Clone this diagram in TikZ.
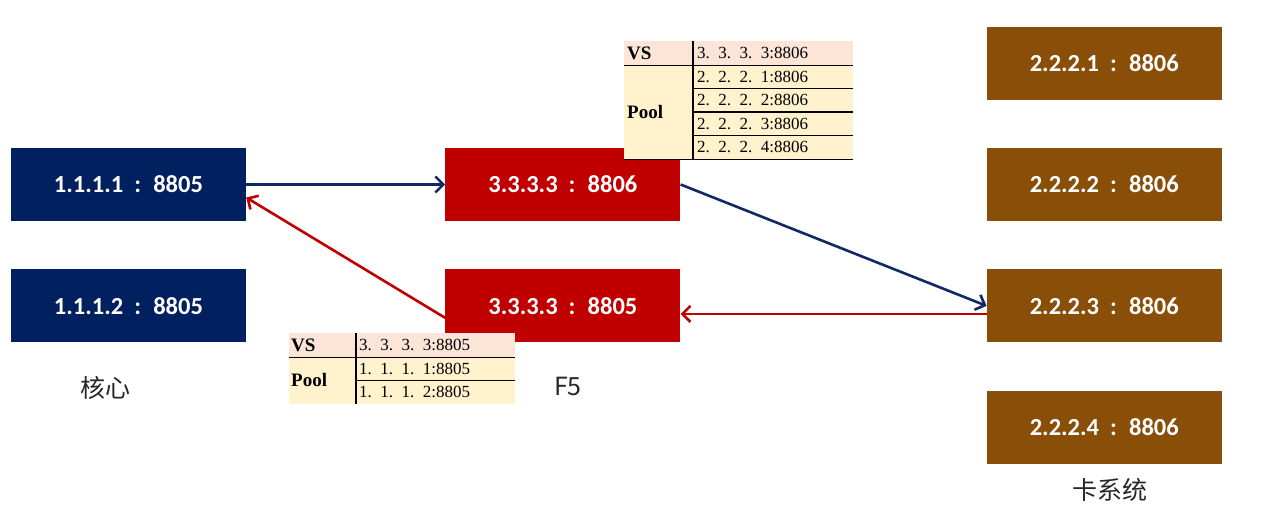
\documentclass[tikz,border=0pt]{standalone}
\usepackage{fontspec}
\setmainfont{Liberation Serif}
\setsansfont{Carlito}
\newfontfamily\cjk{Noto Sans CJK SC}
\usetikzlibrary{
  positioning,
  calc,
  arrows.meta}
\definecolor{corecolor}{RGB}{0,32,96}
\definecolor{f5color}{RGB}{192,0,0}
\definecolor{cardcolor}{RGB}{137,78,8}
\definecolor{vscolor}{RGB}{252,228,214}
\definecolor{poolcolor}{RGB}{255,242,204}
\definecolor{arrowblue}{RGB}{16,40,100}
\newcommand{\portsep}{\hspace{0.45em}:\hspace{0.5em}}
\newcommand{\ipdot}{.\hspace{0.5em}}
\tikzset{
  %% hostbox : one address and port
  hostbox/.style={
    rectangle,
    minimum width=235pt,
    minimum height=73pt,
    inner sep=0pt,
    text=white,
    font=\sffamily\bfseries\fontsize{24.5}{28}\selectfont
  },
  %% core : the core system
  core/.style={hostbox, fill=corecolor},
  %% f5 : the load balancer
  f5/.style={hostbox, fill=f5color},
  %% card : the card system
  card/.style={hostbox, fill=cardcolor},
  %% grouplabel : name under a column
  grouplabel/.style={
    font=\cjk\fontsize{25}{29}\selectfont,
    text=black!85
  },
  %% vscell / poolcell : table backgrounds
  vscell/.style={rectangle, fill=vscolor, inner sep=0pt, anchor=north west},
  poolcell/.style={rectangle, fill=poolcolor, inner sep=0pt, anchor=north west},
  %% celltext / cellhead : table texts
  celltext/.style={anchor=west, inner sep=0pt, font=\fontsize{17}{19}\selectfont},
  cellhead/.style={anchor=west, inner sep=0pt, font=\bfseries\fontsize{19}{21}\selectfont},
  tableline/.style={black, line width=1.2pt},
  %% arrows
  go_arrow/.style={-{Straight Barb[length=8pt, width=16pt]}, line width=2.6pt, arrowblue},
  back_arrow/.style={-{Straight Barb[length=8pt, width=16pt]}, line width=2.6pt, f5color}
}

\begin{document}
\begin{tikzpicture}
  [x=1pt,
  y=-1pt]

  \useasboundingbox (0,0) rectangle (1270,510);

  %% Core system
  \node (core1) [core] at (128.5,184.5) {1.1.1.1\portsep 8805};
  \node (core2) [below=48pt of core1, core] {1.1.1.2\portsep 8805};

  %% F5
  \node (f5a) [right=199pt of core1, f5] {3.3.3.3\portsep 8806};
  \node (f5b) [below=48pt of f5a, f5] {3.3.3.3\portsep 8805};

  %% Card system
  \node (card2) [right=306pt of f5a, card] {2.2.2.2\portsep 8806};
  \node (card1) [above=48pt of card2, card] {2.2.2.1\portsep 8806};
  \node (card3) [below=48pt of card2, card] {2.2.2.3\portsep 8806};
  \node (card4) [below=48pt of card3, card] {2.2.2.4\portsep 8806};

  %% Labels
  \node (corelabel) [grouplabel] at (105,388) {核心};
  \node (f5label) [grouplabel] at (568,387) {F5};
  \node (cardlabel) [grouplabel] at (1110,490) {卡系统};

  %% Connections
  \draw [go_arrow] (core1) -- (f5a);
  \draw [go_arrow] (f5a.east) -- (card3.west);
  \draw [back_arrow] ($(card3.west)+(0,8)$) -- ($(f5b.east)+(0,8)$);
  \draw [back_arrow] ($(f5b.west)+(0,12)$) -- ($(core1.east)+(0,13)$);

  %% Table of the 8806 service
  \node (vsa) [vscell, minimum width=229pt, minimum height=24pt] at (624,41) {};
  \node (poola) [poolcell, minimum width=229pt, minimum height=94pt] at (624,65) {};
  \node [cellhead] at (627,53) {VS};
  \node [celltext] at (697,53) {3\ipdot 3\ipdot 3\ipdot 3:8806};
  \node [cellhead] at (627,112) {Pool};
  \foreach \i in {1,...,4}
    \node [celltext] at (697,{65+23.5*(\i-0.5)}) {2\ipdot 2\ipdot 2\ipdot \i:8806};
  \draw [tableline] (693,41) -- (693,159);
  \draw [tableline] (vsa.south west) -- (vsa.south east);
  \foreach \i in {1,...,3}
    \draw [tableline] (693,{65+23.5*\i}) -- (853,{65+23.5*\i});
  \draw [tableline] (poola.south west) -- (poola.south east);

  %% Table of the 8805 service
  \node (vsb) [vscell, minimum width=226pt, minimum height=24pt] at (289,333) {};
  \node (poolb) [poolcell, minimum width=226pt, minimum height=47pt] at (289,357) {};
  \node [cellhead] at (291,345) {VS};
  \node [celltext] at (359,345) {3\ipdot 3\ipdot 3\ipdot 3:8805};
  \node [cellhead] at (291,380.5) {Pool};
  \foreach \i in {1,2}
    \node [celltext] at (359,{357+23.5*(\i-0.5)}) {1\ipdot 1\ipdot 1\ipdot \i:8805};
  \draw [tableline] (356,333) -- (356,404);
  \draw [tableline] (vsb.south west) -- (vsb.south east);
  \draw [tableline] (356,380.5) -- (515,380.5);

\end{tikzpicture}
\end{document}
